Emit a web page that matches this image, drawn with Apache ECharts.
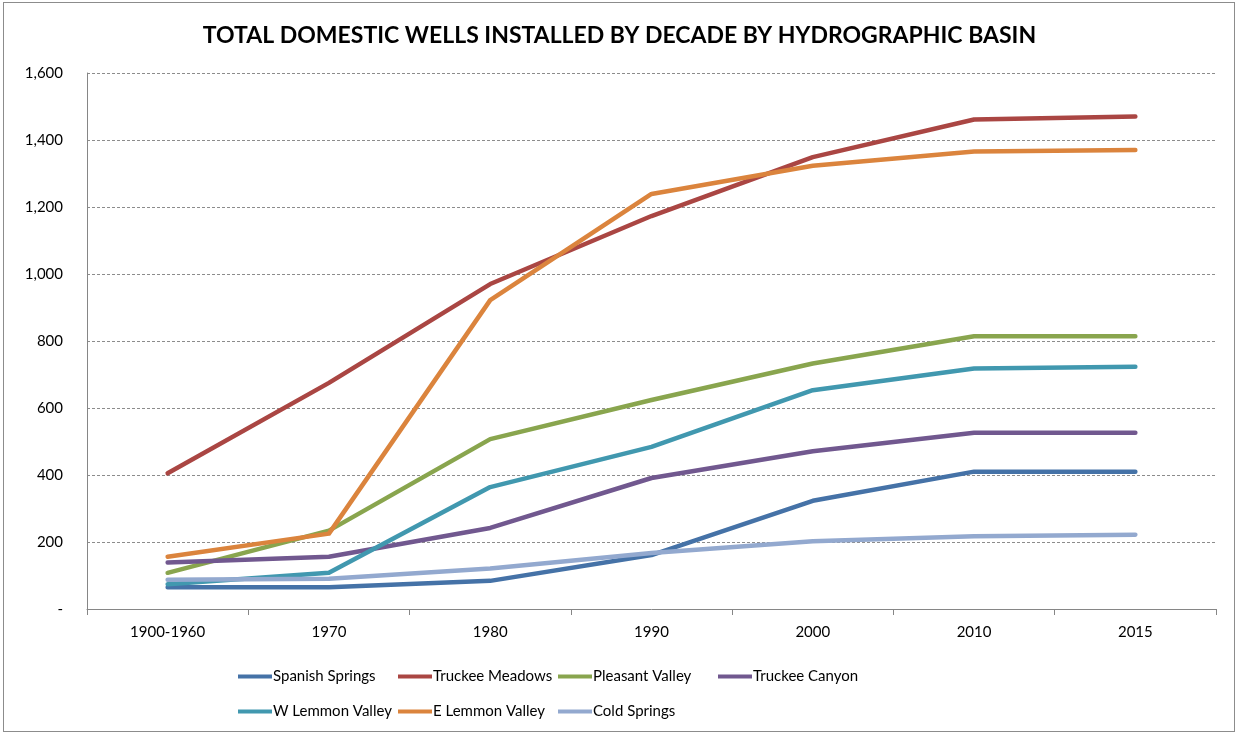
<!DOCTYPE html>
<html><head><meta charset="utf-8">
<script src="https://cdn.jsdelivr.net/npm/echarts@6/dist/echarts.min.js"></script>
<style>
html,body{margin:0;padding:0;background:#fff;}
#frame{position:absolute;left:3px;top:2px;width:1232px;height:730px;border:1px solid #8c8c8c;box-sizing:border-box;}
#c{position:absolute;left:0;top:0;width:1239px;height:736px;}
</style></head>
<body><div id="frame"></div><div id="c"></div>
<script>
const categories = ['1900-1960','1970','1980','1990','2000','2010','2015'];
const spanishSprings = [65, 65, 84, 161, 323, 410, 410];
const truckeeMeadows = [405, 675, 970, 1173, 1349, 1461, 1470];
const pleasantValley = [108, 234, 507, 624, 733, 814, 814];
const truckeeCanyon = [139, 156, 242, 391, 471, 526, 526];
const wLemmonValley = [74, 108, 364, 484, 653, 718, 723];
const eLemmonValley = [156, 225, 922, 1239, 1323, 1366, 1370];
const coldSprings = [87, 90, 121, 167, 202, 217, 222];
const yTicks = [0, 200, 400, 600, 800, 1000, 1200, 1400, 1600];

const names = ['Spanish Springs','Truckee Meadows','Pleasant Valley','Truckee Canyon','W Lemmon Valley','E Lemmon Valley','Cold Springs'];
const values = [spanishSprings, truckeeMeadows, pleasantValley, truckeeCanyon, wLemmonValley, eLemmonValley, coldSprings];
const colors = ['#4572A7','#AA4643','#89A54E','#71588F','#4198AF','#DB843D','#93A9CF'];
const FONT = 'Lato, "Open Sans", sans-serif';

const legendPos = [[238,669],[398,669],[558,669],[718,669],[238,704],[398,704],[558,704]];
const legends = names.map((n,i)=>({
  data:[n], left: legendPos[i][0], top: legendPos[i][1], padding:0,
  icon:'rect', itemWidth:34, itemHeight:4, itemGap:0,
  textStyle:{fontFamily:FONT, fontSize:15, color:'#000', padding:[0,0,0,-4]},
  selectedMode:false
}));

const chart = echarts.init(document.getElementById('c'), null, {renderer:'canvas'});
chart.setOption({
  animation:false,
  title:{text:'TOTAL DOMESTIC WELLS INSTALLED BY DECADE BY HYDROGRAPHIC BASIN', left:'center', top:19,
    textStyle:{fontFamily:FONT, fontWeight:'bold', fontSize:23, color:'#000'}},
  legend: legends,
  grid:{left:87, right:23, top:73, bottom:127, containLabel:false},
  xAxis:{type:'category', data:categories, boundaryGap:true,
    axisLine:{lineStyle:{color:'#868686', width:1}},
    axisTick:{show:true, interval:0, length:6, lineStyle:{color:'#868686'}},
    axisLabel:{fontFamily:FONT, fontSize:15, color:'#000', margin:16}},
  yAxis:{type:'value', min:yTicks[0], max:yTicks[yTicks.length-1], interval:200,
    axisLine:{show:true, lineStyle:{color:'#868686'}},
    axisTick:{show:false},
    splitLine:{lineStyle:{color:'#8c8c8c', type:[3,2], width:1}},
    axisLabel:{fontFamily:FONT, fontSize:15, color:'#000', margin:24,
      formatter:v=> v===0 ? '-' : v.toLocaleString('en-US')}},
  series: names.map((n,i)=>({
    name:n, type:'line', data:values[i], symbol:'none', showSymbol:false,
    lineStyle:{width:4.5, color:colors[i], cap:'round', join:'round'},
    itemStyle:{color:colors[i]}
  }))
});
</script></body></html>
